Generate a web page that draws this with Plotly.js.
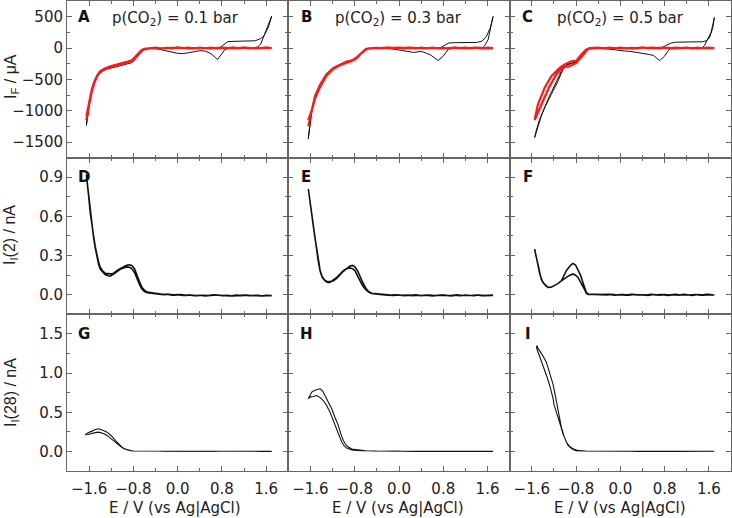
<!DOCTYPE html>
<html>
<head>
<meta charset="utf-8">
<script src="https://cdn.plot.ly/plotly-3.0.1.min.js"></script>
<style>html,body{margin:0;padding:0;background:#fff;}#chart{width:732px;height:518px;}</style>
</head>
<body>
<div id="chart"></div>
<script>
// ---------------- DATA ----------------
// Column titles and panel letters
const columnTitles = ["p(CO<sub>2</sub>) = 0.1 bar", "p(CO<sub>2</sub>) = 0.3 bar", "p(CO<sub>2</sub>) = 0.5 bar"];
const panelLetters = ["A","B","C","D","E","F","G","H","I"];
const yTitles = ["I<sub>F</sub> / μA", "I<sub>I</sub>(2) / nA", "I<sub>I</sub>(28) / nA"];
const xTitle = "E / V (vs Ag|AgCl)";
const xTickVals = [-1.6, -0.8, 0.0, 0.8, 1.6];

// Panel A (faradaic current, µA)
const E_A_blk = [-1.65,-1.6,-1.55,-1.5,-1.45,-1.4,-1.3,-1.2,-1.1,-1.0,-0.9,-0.85,-0.8,-0.75,-0.7,-0.65,-0.6,-0.5,-0.4,-0.2,0.0,0.2,0.4,0.6,0.7,0.76,0.8,0.85,0.9,1.0,1.1,1.2,1.3,1.4,1.5,1.55,1.6,1.65,1.7,
  1.65,1.6,1.55,1.5,1.45,1.4,1.3,1.2,1.1,1.0,0.9,0.85,0.8,0.76,0.72,0.68,0.6,0.5,0.4,0.3,0.2,0.1,0.0,-0.1,-0.2,-0.3,-0.4,-0.5,-0.6,-0.65,-0.7,-0.75,-0.8,-0.85,-0.9,-1.0,-1.1,-1.2,-1.3,-1.4,-1.45,-1.5,-1.55,-1.6,-1.65];
const I_A_blk = [-1230,-895,-660,-528,-433,-370,-317,-290,-264,-243,-222,-200,-168,-116,-63,-32,-16,-8,-5,-2,0,0,-2,0,2,5,30,70,100,106,106,106,108,115,150,185,260,360,510,
  400,280,150,60,20,5,2,0,-2,-5,-5,-30,-90,-150,-185,-150,-90,-50,-42,-60,-80,-90,-85,-65,-40,-22,-8,-3,-20,-60,-110,-175,-215,-240,-250,-272,-292,-312,-342,-395,-450,-550,-690,-930,-1240];
const E_A_red = [-1.65,-1.6,-1.55,-1.5,-1.45,-1.4,-1.3,-1.2,-1.1,-1.0,-0.9,-0.85,-0.8,-0.75,-0.7,-0.65,-0.6,-0.5,-0.4,-0.3,-0.2,-0.1,0.0,0.1,0.2,0.3,0.4,0.5,0.6,0.7,0.8,0.9,1.0,1.1,1.2,1.3,1.4,1.5,1.6,1.7,
  1.6,1.4,1.2,1.0,0.8,0.6,0.4,0.2,0.0,-0.2,-0.4,-0.5,-0.6,-0.65,-0.7,-0.75,-0.8,-0.85,-0.9,-1.0,-1.1,-1.2,-1.3,-1.4,-1.45,-1.5,-1.55,-1.6,-1.65];
const I_A_red = [-1090,-880,-650,-520,-430,-370,-318,-290,-266,-246,-225,-205,-172,-122,-66,-30,-12,-4,6,-8,4,-6,9,-3,7,-9,5,-4,8,-6,3,-7,10,-5,6,-8,4,-3,7,-2,
  5,-6,8,-4,7,-5,3,-8,6,-3,2,-6,-22,-45,-90,-140,-185,-215,-232,-255,-278,-300,-330,-385,-440,-540,-680,-900,-1150];

// Panel B
const E_B_blk = [-1.64,-1.6,-1.58,-1.52,-1.43,-1.31,-1.19,-1.07,-0.95,-0.9,-0.83,-0.78,-0.735,-0.69,-0.645,-0.6,-0.55,-0.4,-0.2,0.0,0.2,0.4,0.6,0.75,0.8,0.85,0.9,1.0,1.2,1.4,1.5,1.58,1.65,1.7,
  1.65,1.61,1.55,1.52,1.4,1.2,1.0,0.9,0.85,0.8,0.71,0.66,0.62,0.56,0.5,0.44,0.38,0.32,0.26,0.2,0.1,0.0,-0.1,-0.22,-0.4,-0.55,-0.6,-0.645,-0.7,-0.75,-0.8,-0.85,-0.95,-1.07,-1.19,-1.31,-1.43,-1.52,-1.58,-1.64];
const I_B_blk = [-1454,-1150,-1005,-793,-608,-422,-317,-264,-211,-200,-195,-165,-132,-90,-52,-25,-10,-3,0,0,-2,0,0,5,30,60,80,85,85,88,110,186,320,503,
  270,133,40,10,0,0,-2,-10,-70,-130,-200,-165,-140,-105,-87,-65,-56,-62,-72,-60,-42,-30,-18,-10,-3,-12,-30,-60,-110,-155,-180,-192,-225,-280,-335,-445,-640,-830,-1040,-1440];
const E_B_red = [-1.64,-1.6,-1.58,-1.52,-1.43,-1.31,-1.19,-1.07,-0.95,-0.88,-0.83,-0.78,-0.735,-0.69,-0.645,-0.6,-0.55,-0.4,-0.3,-0.2,-0.1,0.0,0.1,0.2,0.3,0.4,0.5,0.6,0.7,0.8,0.9,1.0,1.1,1.2,1.3,1.4,1.5,1.6,1.7,
  1.6,1.4,1.2,1.0,0.8,0.6,0.4,0.2,0.0,-0.2,-0.4,-0.55,-0.6,-0.65,-0.7,-0.75,-0.8,-0.88,-0.95,-1.07,-1.19,-1.31,-1.43,-1.52,-1.58,-1.64];
const I_B_red = [-1250,-1080,-980,-770,-590,-420,-320,-262,-215,-205,-190,-160,-125,-80,-45,-15,-5,4,-7,6,-3,8,-5,3,-8,5,-4,7,-6,2,-9,6,-3,8,-5,4,-7,5,-2,
  -5,7,-4,6,-8,3,-6,8,-3,5,-2,-8,-25,-60,-100,-150,-185,-215,-235,-275,-335,-440,-620,-800,-1000,-1150];

// Panel C
const E_C_blk = [-1.548,-1.53,-1.458,-1.368,-1.247,-1.127,-1.037,-0.946,-0.856,-0.766,-0.676,-0.585,-0.5,-0.4,-0.2,0.0,0.2,0.4,0.6,0.75,0.82,0.88,0.92,1.0,1.2,1.4,1.49,1.55,1.61,1.67,1.7,
  1.64,1.58,1.52,1.49,1.4,1.2,1.0,0.9,0.85,0.8,0.71,0.66,0.6,0.53,0.44,0.35,0.26,0.17,0.08,-0.01,-0.1,-0.2,-0.31,-0.45,-0.555,-0.614,-0.705,-0.795,-0.886,-0.976,-1.066,-1.187,-1.308,-1.428,-1.518,-1.548];
const I_C_blk = [-1428,-1349,-1137,-952,-740,-529,-343,-254,-238,-201,-105,-15,-5,-2,0,0,-2,0,2,5,40,70,80,92,95,95,100,115,159,318,487,
  250,133,40,10,0,0,-2,-8,-60,-130,-201,-160,-120,-105,-90,-79,-60,-53,-48,-42,-30,-18,-8,-3,-5,-42,-148,-222,-254,-275,-370,-582,-820,-1084,-1322,-1428];
const E_C_red = [-1.548,-1.489,-1.368,-1.247,-1.097,-1.006,-0.886,-0.795,-0.705,-0.62,-0.555,-0.4,-0.3,-0.2,-0.1,0.0,0.1,0.2,0.3,0.4,0.5,0.6,0.7,0.8,0.9,1.0,1.1,1.2,1.3,1.4,1.5,1.6,1.7,
  1.6,1.4,1.2,1.0,0.8,0.6,0.4,0.2,0.0,-0.2,-0.4,-0.585,-0.676,-0.795,-0.916,-1.037,-1.156,-1.277,-1.398,-1.518,-1.548];
const I_C_red = [-1137,-899,-634,-449,-317,-264,-211,-201,-105,-26,0,5,-6,8,-4,6,-7,3,-5,9,-3,6,-8,4,-5,7,-3,5,-6,8,-4,3,-2,
  6,-5,4,-7,5,-3,8,-6,3,-4,2,-15,-105,-238,-291,-306,-423,-608,-846,-1111,-1150];

// Shared potential grids of the flat (baseline) parts of the ion-current sweeps
const E_flat1_fwd = [-0.4,-0.3,-0.2,-0.1,0.0,0.1,0.2,0.3,0.4,0.5,0.6,0.7,0.8,0.9,1.0,1.1,1.2,1.3,1.4,1.5,1.6,1.7];
const E_flat1_back = [1.65,1.55,1.45,1.35,1.25,1.15,1.05,0.95,0.85,0.75,0.65,0.55,0.45,0.35,0.25,0.15,0.05,-0.05,-0.15,-0.25,-0.35,-0.45];
const E_flat2_fwd = [-0.6,-0.5,-0.4,-0.3,-0.2,-0.1,0.0,0.1,0.2,0.3,0.4,0.5,0.6,0.7,0.8,0.9,1.0,1.1,1.2,1.3,1.4,1.5,1.6,1.7];
const E_flat2_back = [1.65,1.55,1.45,1.35,1.25,1.15,1.05,0.95,0.85,0.75,0.65,0.55,0.45,0.35,0.25,0.15,0.05,-0.05,-0.15,-0.25,-0.35,-0.45,-0.55,-0.65];

// Panel D (m/z 2 ion current, nA)
const E_D_b1 = [-1.651,-1.63,-1.61,-1.58,-1.55,-1.52,-1.49,-1.46,-1.43,-1.40,-1.35,-1.31,-1.26,-1.22,-1.17,-1.13,-1.08,-1.04,-0.98,-0.92,-0.87,-0.83,-0.78,-0.74,-0.69,-0.65,-0.6,-0.55,-0.5];
const I_D_b1 = [0.92,0.84,0.747,0.619,0.52,0.44,0.36,0.286,0.235,0.197,0.17,0.155,0.145,0.142,0.155,0.168,0.185,0.195,0.205,0.212,0.21,0.2,0.17,0.125,0.08,0.045,0.025,0.015,0.012];
const I_D_fwd = [0.006,0.002,0.004,-0.003,0.001,-0.006,-0.002,-0.008,-0.004,-0.009,-0.005,-0.002,-0.007,-0.004,-0.010,-0.006,-0.003,-0.008,-0.005,-0.009,-0.004,-0.007];
const I_D_back = [-0.006,-0.010,-0.004,-0.008,-0.003,-0.007,-0.002,-0.009,-0.005,-0.006,-0.001,-0.007,-0.004,-0.008,-0.002,-0.005,0.002,-0.003,0.004,0.001,0.007,0.010];
const E_D_b2 = [-0.55,-0.6,-0.65,-0.7,-0.74,-0.78,-0.83,-0.87,-0.92,-0.98,-1.04,-1.08,-1.13,-1.17,-1.22,-1.26,-1.31,-1.35,-1.40,-1.43,-1.46,-1.49,-1.52,-1.55,-1.58,-1.61,-1.63,-1.651];
const I_D_b2 = [0.02,0.035,0.06,0.11,0.16,0.2,0.225,0.23,0.225,0.215,0.2,0.19,0.175,0.162,0.16,0.16,0.165,0.18,0.21,0.25,0.3,0.37,0.45,0.53,0.63,0.76,0.85,0.92];

// Panel E
const E_E_b1 = [-1.639,-1.62,-1.608,-1.58,-1.548,-1.52,-1.487,-1.46,-1.427,-1.39,-1.337,-1.29,-1.247,-1.19,-1.126,-1.06,-1.006,-0.95,-0.885,-0.84,-0.795,-0.75,-0.705,-0.66,-0.614,-0.55,-0.493];
const I_E_b1 = [0.81,0.75,0.696,0.61,0.517,0.43,0.338,0.26,0.184,0.135,0.107,0.095,0.094,0.11,0.133,0.16,0.184,0.2,0.205,0.2,0.184,0.145,0.107,0.07,0.044,0.02,0.01];
const I_E_fwd = [0.004,0.000,-0.003,-0.006,-0.002,-0.008,-0.004,-0.001,-0.007,-0.003,-0.009,-0.005,-0.002,-0.006,-0.004,-0.008,-0.003,-0.006,-0.002,-0.007,-0.004,-0.005];
const I_E_back = [-0.003,-0.007,-0.002,-0.008,-0.004,-0.006,-0.001,-0.009,-0.005,-0.003,-0.007,-0.002,-0.006,-0.004,-0.008,-0.003,-0.005,0.000,-0.002,0.003,0.006,0.009];
const E_E_b2 = [-0.493,-0.55,-0.6,-0.65,-0.7,-0.75,-0.8,-0.84,-0.885,-0.95,-1.006,-1.06,-1.126,-1.19,-1.247,-1.29,-1.337,-1.39,-1.427,-1.46,-1.487,-1.52,-1.548,-1.58,-1.608,-1.62,-1.639];
const I_E_b2 = [0.012,0.025,0.05,0.09,0.14,0.185,0.215,0.225,0.22,0.2,0.18,0.155,0.125,0.105,0.1,0.1,0.11,0.14,0.19,0.27,0.345,0.44,0.525,0.62,0.705,0.76,0.81];

// Panel F
const E_F_b1 = [-1.548,-1.53,-1.507,-1.48,-1.458,-1.43,-1.398,-1.35,-1.308,-1.25,-1.187,-1.13,-1.066,-1.02,-0.976,-0.92,-0.856,-0.81,-0.766,-0.72,-0.676,-0.64,-0.614,-0.58,-0.5];
const I_F_b1 = [0.345,0.31,0.261,0.2,0.159,0.12,0.094,0.07,0.056,0.058,0.069,0.085,0.107,0.12,0.133,0.148,0.159,0.15,0.133,0.1,0.069,0.035,0.01,0.003,0.002];
const I_F_fwd = [0.002,-0.002,0.003,-0.004,0.001,-0.003,0.004,-0.002,0.000,-0.005,0.002,-0.003,0.001,-0.004,0.003,-0.002,0.000,-0.005,0.002,-0.003,0.001,-0.002];
const I_F_back = [-0.001,0.003,-0.004,0.002,-0.002,0.004,-0.003,0.001,-0.005,0.002,-0.001,0.003,-0.004,0.000,0.002,-0.003,0.001,-0.002,0.003,-0.001,0.002,0.001];
const E_F_b2 = [-0.5,-0.58,-0.614,-0.645,-0.676,-0.72,-0.766,-0.81,-0.856,-0.9,-0.976,-1.02,-1.066,-1.13,-1.187,-1.25,-1.308,-1.35,-1.398,-1.43,-1.458,-1.48,-1.507,-1.53,-1.548];
const I_F_b2 = [0.003,0.005,0.018,0.05,0.094,0.15,0.197,0.228,0.24,0.225,0.184,0.14,0.107,0.085,0.07,0.058,0.058,0.07,0.096,0.125,0.165,0.2,0.265,0.31,0.35];

// Panel G (m/z 28 ion current, nA)
const E_G_b1 = [-1.669,-1.62,-1.548,-1.49,-1.429,-1.38,-1.33,-1.277,-1.2,-1.127,-1.06,-1.006,-0.96,-0.916,-0.85,-0.8];
const I_G_b1 = [0.213,0.24,0.259,0.28,0.29,0.28,0.265,0.246,0.2,0.14,0.09,0.055,0.035,0.021,0.01,0.005];
const I_G_fwd = [0.004,0.003,0.002,0.003,0.001,0.002,0.000,0.002,0.001,0.003,0.000,0.002,0.001,0.000,0.002,0.001,0.003,0.000,0.001,0.002,0.000,0.001,0.002,0.001];
const I_G_back = [0.002,0.000,0.003,0.001,0.000,0.002,0.001,0.003,0.000,0.002,0.001,0.000,0.003,0.001,0.002,0.000,0.001,0.003,0.002,0.001,0.003,0.002,0.004,0.005];
const E_G_b2 = [-0.8,-0.85,-0.916,-0.96,-1.006,-1.06,-1.127,-1.2,-1.277,-1.33,-1.38,-1.429,-1.49,-1.548,-1.62,-1.669];
const I_G_b2 = [0.005,0.008,0.018,0.03,0.048,0.08,0.12,0.165,0.204,0.225,0.238,0.246,0.24,0.226,0.215,0.213];

// Panel H
const E_H_b1 = [-1.639,-1.608,-1.577,-1.52,-1.47,-1.427,-1.38,-1.337,-1.28,-1.216,-1.16,-1.097,-1.05,-1.006,-0.96,-0.916,-0.85,-0.764,-0.7];
const I_H_b1 = [0.672,0.72,0.757,0.78,0.795,0.8,0.77,0.714,0.63,0.544,0.44,0.332,0.22,0.14,0.085,0.055,0.03,0.02,0.012];
const I_H_fwd = [0.008,0.006,0.005,0.004,0.006,0.003,0.005,0.002,0.004,0.003,0.001,0.004,0.002,0.003,0.000,0.002,0.003,0.001,0.002,0.000,0.002,0.001,0.003,0.001];
const I_H_back = [0.002,0.000,0.003,0.001,0.002,0.000,0.003,0.001,0.002,0.004,0.001,0.003,0.002,0.000,0.004,0.002,0.003,0.005,0.002,0.004,0.003,0.006,0.005,0.009];
const E_H_b2 = [-0.7,-0.8,-0.87,-0.945,-0.99,-1.035,-1.08,-1.126,-1.19,-1.247,-1.31,-1.368,-1.43,-1.487,-1.55,-1.608,-1.639];
const I_H_b2 = [0.01,0.012,0.022,0.042,0.07,0.119,0.2,0.29,0.4,0.501,0.59,0.65,0.69,0.714,0.7,0.693,0.672];

// Panel I
const E_I_b1 = [-1.518,-1.505,-1.49,-1.458,-1.4,-1.337,-1.29,-1.247,-1.217,-1.187,-1.157,-1.127,-1.097,-1.066,-1.02,-0.976,-0.92,-0.856,-0.78,-0.675];
const I_I_b1 = [1.33,1.35,1.32,1.288,1.22,1.139,1.04,0.948,0.86,0.757,0.64,0.523,0.41,0.31,0.2,0.119,0.065,0.034,0.015,0.005];
const I_I_fwd = [0.003,0.002,0.003,0.001,0.002,0.000,0.002,0.001,0.003,0.000,0.002,0.001,0.000,0.002,0.001,0.003,0.000,0.001,0.002,0.000,0.001,0.002,0.001,0.002];
const I_I_back = [0.001,0.003,0.000,0.002,0.001,0.003,0.000,0.002,0.001,0.000,0.003,0.001,0.002,0.000,0.001,0.003,0.002,0.001,0.002,0.000,0.003,0.002,0.004,0.005];
const E_I_b2 = [-0.675,-0.8,-0.87,-0.946,-0.99,-1.037,-1.08,-1.127,-1.17,-1.2,-1.217,-1.24,-1.277,-1.32,-1.368,-1.41,-1.458,-1.49,-1.518];
const I_I_b2 = [0.005,0.01,0.03,0.077,0.15,0.225,0.33,0.438,0.53,0.6,0.68,0.75,0.842,0.94,1.033,1.12,1.203,1.28,1.33];

// Axis ranges/ticks per row
const yRanges = [[-1750, 750], [-0.15, 1.05], [-0.25, 1.75]];
const yDticks = [500, 0.3, 0.5];
const yFormats = ["d", ".1f", ".1f"];

// ---------------- BUILD ----------------
const AX = '#666';
const traces = [];
function ax(i){ return i === 1 ? '' : String(i); }
function blk(x, y, i, w){ traces.push({type:'scatter', mode:'lines', x:x, y:y, xaxis:'x'+ax(i), yaxis:'y'+ax(i), line:{color:'#111', width:w}, hoverinfo:'skip'}); }
function red(x, y, i){ traces.push({type:'scatter', mode:'lines', x:x, y:y, xaxis:'x'+ax(i), yaxis:'y'+ax(i), line:{color:'#ff1a1a', width:2.2}, hoverinfo:'skip'}); }

blk(E_A_blk, I_A_blk, 1, 1); red(E_A_red, I_A_red, 1);
blk(E_B_blk, I_B_blk, 2, 1); red(E_B_red, I_B_red, 2);
blk(E_C_blk, I_C_blk, 3, 1); red(E_C_red, I_C_red, 3);

blk([].concat(E_D_b1, E_flat1_fwd, E_flat1_back, E_D_b2), [].concat(I_D_b1, I_D_fwd, I_D_back, I_D_b2), 4, 1.6);
blk([].concat(E_E_b1, E_flat1_fwd, E_flat1_back, E_E_b2), [].concat(I_E_b1, I_E_fwd, I_E_back, I_E_b2), 5, 1.6);
blk([].concat(E_F_b1, E_flat1_fwd, E_flat1_back, E_F_b2), [].concat(I_F_b1, I_F_fwd, I_F_back, I_F_b2), 6, 1.6);
blk([].concat(E_G_b1, E_flat2_fwd, E_flat2_back, E_G_b2), [].concat(I_G_b1, I_G_fwd, I_G_back, I_G_b2), 7, 1.1);
blk([].concat(E_H_b1, E_flat2_fwd, E_flat2_back, E_H_b2), [].concat(I_H_b1, I_H_fwd, I_H_back, I_H_b2), 8, 1.1);
blk([].concat(E_I_b1, E_flat2_fwd, E_flat2_back, E_I_b2), [].concat(I_I_b1, I_I_fwd, I_I_back, I_I_b2), 9, 1.1);

const W = 732, H = 518, ML = 67, MR = 1, MT = 1, MB = 47;
const PW = W - ML - MR, PH = H - MT - MB;
function px2x(px){ return (px - ML) / PW; }
function py2y(py){ return 1 - (py - MT) / PH; }

const layout = {
  width: W, height: H,
  margin: {l: ML, r: MR, t: MT, b: MB, pad: 0},
  showlegend: false,
  paper_bgcolor: '#fff', plot_bgcolor: '#fff',
  font: {family: 'DejaVu Sans, Arial, sans-serif', size: 15, color: '#222'},
  annotations: []
};

for (let r = 0; r < 3; r++) {
  for (let c = 0; c < 3; c++) {
    const i = r * 3 + c + 1;
    layout['xaxis' + ax(i)] = {
      domain: [c / 3, (c + 1) / 3], anchor: 'y' + ax(i),
      range: [-2, 2], tickmode: 'array', tickvals: xTickVals, tickformat: '.1f',
      ticks: 'inside', ticklen: 5, tickwidth: 1, tickcolor: AX,
      showline: true, linecolor: AX, linewidth: 1, mirror: 'allticks',
      showgrid: false, zeroline: false, showticklabels: r === 2,
      ticklabelstandoff: 4,
      tickfont: {family: 'DejaVu Sans', size: 15, color: '#222'},
      minor: {dtick: 0.4, tick0: 0, ticks: 'inside', ticklen: 3, tickcolor: AX, showgrid: false}
    };
    layout['yaxis' + ax(i)] = {
      domain: [(2 - r) / 3, (3 - r) / 3], anchor: 'x' + ax(i),
      range: yRanges[r], dtick: yDticks[r], tick0: 0, tickformat: yFormats[r],
      ticks: 'inside', ticklen: 5, tickwidth: 1, tickcolor: AX,
      showline: true, linecolor: AX, linewidth: 1, mirror: 'allticks',
      showgrid: false, zeroline: false, showticklabels: c === 0,
      tickfont: {family: 'DejaVu Sans', size: 15, color: '#222'},
      minor: {dtick: yDticks[r] / 2, tick0: 0, ticks: 'inside', ticklen: 3, tickcolor: AX, showgrid: false}
    };
  }
}

// Panel letters
const letterX = [83.5, 306, 527.5];
const letterY = [17, 176.5, 333.5];
for (let r = 0; r < 3; r++) for (let c = 0; c < 3; c++) {
  layout.annotations.push({text: '<b>' + panelLetters[r * 3 + c] + '</b>', xref: 'paper', yref: 'paper',
    x: px2x(letterX[c]), y: py2y(letterY[r]), xanchor: 'center', yanchor: 'middle', showarrow: false,
    font: {family: 'DejaVu Sans', size: 15, color: '#111'}});
}
// Column titles
const titleX = [175, 398, 620];
for (let c = 0; c < 3; c++) {
  layout.annotations.push({text: columnTitles[c], xref: 'paper', yref: 'paper',
    x: px2x(titleX[c]), y: py2y(18), xanchor: 'center', yanchor: 'middle', showarrow: false,
    font: {family: 'DejaVu Sans', size: 15, color: '#222'}});
  layout.annotations.push({text: xTitle, xref: 'paper', yref: 'paper',
    x: px2x(titleX[c]), y: py2y(508), xanchor: 'center', yanchor: 'middle', showarrow: false,
    font: {family: 'DejaVu Sans', size: 15, color: '#222'}});
}
// Y titles
const yTitleY = [77, 235, 393];
for (let r = 0; r < 3; r++) {
  layout.annotations.push({text: yTitles[r], xref: 'paper', yref: 'paper', textangle: -90,
    x: px2x(11), y: py2y(yTitleY[r]), xanchor: 'center', yanchor: 'middle', showarrow: false,
    font: {family: 'Liberation Sans, Arial', size: 16, color: '#222'}});
}

Plotly.newPlot('chart', traces, layout, {displayModeBar: false, staticPlot: true});
</script>
</body>
</html>
